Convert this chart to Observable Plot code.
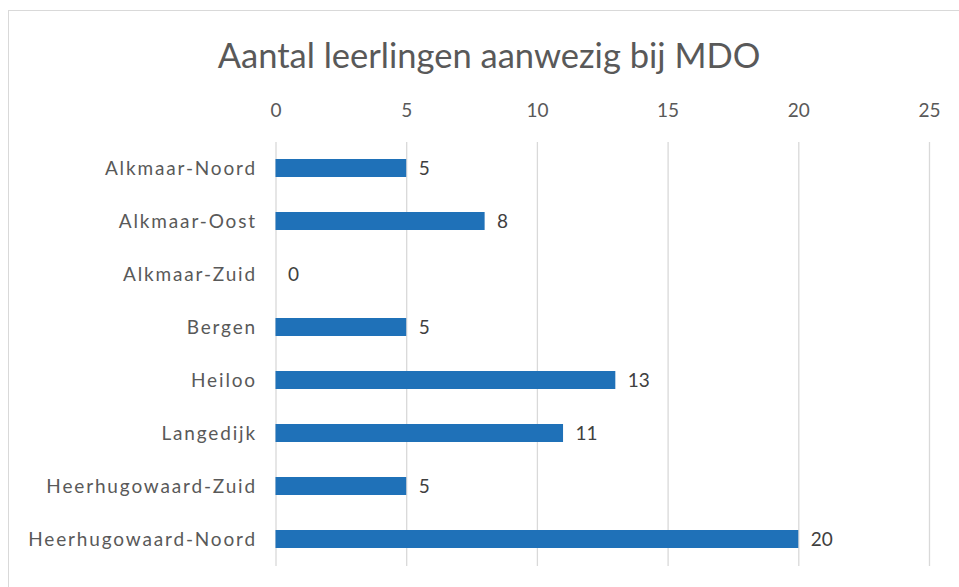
<!DOCTYPE html>
<html>
<head>
<meta charset="utf-8">
<script src="https://cdn.jsdelivr.net/npm/d3@7"></script>
<script src="https://cdn.jsdelivr.net/npm/@observablehq/plot@0.6"></script>
<style>
  html, body { margin: 0; padding: 0; background: #fff; overflow: hidden; width: 959px; height: 587px; }
  #frame { position: absolute; left: 8px; top: 10px; width: 962px; height: 600px; border: 1px solid #d9d9d9; box-sizing: border-box; }
  #title { position: absolute; left: 8px; top: 34px; width: 962px; text-align: center; font-family: Lato, sans-serif; font-size: 34.5px; color: #595959; line-height: 42px; }
  #chart { position: absolute; left: 0; top: 0; }
  #chart g[aria-label="y-axis tick label"] text { letter-spacing: 1.85px; }
</style>
</head>
<body>
<div id="frame"></div>
<div id="title">Aantal leerlingen aanwezig bij MDO</div>
<div id="chart"></div>
<script>
const categories = ["Alkmaar-Noord", "Alkmaar-Oost", "Alkmaar-Zuid", "Bergen", "Heiloo", "Langedijk", "Heerhugowaard-Zuid", "Heerhugowaard-Noord"];
const values = [5, 8, 0, 5, 13, 11, 5, 20];
const xTicks = [0, 5, 10, 15, 20, 25];

const data = categories.map((c, i) => ({category: c, value: values[i]}));

const chart = Plot.plot({
  width: 959,
  height: 587,
  marginLeft: 275.5,
  marginRight: 30,
  marginTop: 142,
  marginBottom: 21,
  style: {fontFamily: "Lato, sans-serif", fontSize: "19px", color: "#595959", background: "transparent"},
  x: {domain: [0, 25], ticks: xTicks},
  y: {domain: categories, paddingInner: 0.66, paddingOuter: 0.33},
  marks: [
    Plot.gridX(xTicks, {stroke: "#d9d9d9", strokeOpacity: 1, strokeWidth: 1.3}),
    Plot.barX(data, {x: "value", y: "category", fill: "#1f71b8"}),
    Plot.text(data, {x: "value", y: "category", text: d => String(d.value), dx: 12, textAnchor: "start", fill: "#404040", fontSize: 19}),
    Plot.axisX(xTicks, {anchor: "top", tickSize: 0, tickPadding: 26, label: null, fill: "#595959", fontSize: 19}),
    Plot.axisY({tickSize: 0, tickPadding: 19, label: null, fill: "#595959", fontSize: 19})
  ]
});
document.getElementById("chart").appendChild(chart);
</script>
</body>
</html>
